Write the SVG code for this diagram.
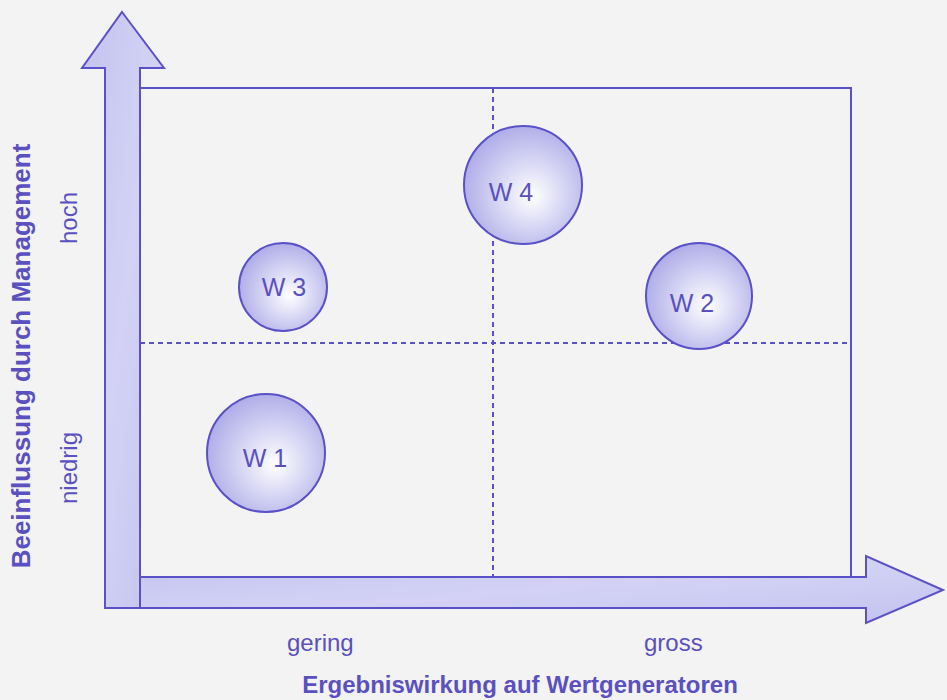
<svg xmlns="http://www.w3.org/2000/svg" width="947" height="700" viewBox="0 0 947 700">
  <style>
    .ln { stroke: #5a50c8; stroke-width: 2; fill: none; }
    .dash { stroke: #5a50c8; stroke-width: 2; stroke-dasharray: 5 4; fill: none; }
    .arrow { fill: url(#arrowFill); stroke: #5a50c8; stroke-width: 2; stroke-linejoin: miter; }
    .bubble { fill: url(#bubbleFill); stroke: #5a50c8; stroke-width: 2; }
    .lbl { font-family: "Liberation Sans", Arial, sans-serif; fill: #5a50c0; font-size: 24px; }
    .ttl { font-family: "Liberation Sans", Arial, sans-serif; fill: #5a50c0; font-size: 24px; font-weight: bold; }
    .wl { font-family: "Liberation Sans", Arial, sans-serif; fill: #5a50c0; font-size: 25px; text-anchor: middle; }
  </style>
  <defs>
    <linearGradient id="arrowFill" x1="0" y1="0" x2="1" y2="1">
      <stop offset="0" stop-color="#c3c2ef"/>
      <stop offset="0.5" stop-color="#d3d2f5"/>
      <stop offset="1" stop-color="#c3c2ef"/>
    </linearGradient>
    <radialGradient id="bubbleFill" cx="0.55" cy="0.55" r="0.6" fx="0.58" fy="0.6">
      <stop offset="0" stop-color="#ffffff"/>
      <stop offset="0.45" stop-color="#d9d8f5"/>
      <stop offset="1" stop-color="#aaa8e6"/>
    </radialGradient>
  </defs>
  <rect width="947" height="700" fill="#f3f3f3"/>

  <g id="axes">
    <polygon id="y-axis" class="arrow" points="122,12 164,68 140,68 140,608 105,608 105,68 82,68"/>
    <polygon id="x-axis" class="arrow" points="140,577 866,577 866,556 943,590 866,623 866,608 140,608"/>
  </g>

  <g id="matrix">
    <rect class="ln" x="140" y="88" width="711" height="489"/>
    <line class="dash" x1="140" y1="343" x2="851" y2="343"/>
    <line class="dash" x1="493" y1="88" x2="493" y2="577"/>
  </g>

  <g id="W1">
    <circle class="bubble" cx="266" cy="453" r="59"/>
    <text class="wl" x="265" y="467">W 1</text>
  </g>
  <g id="W2">
    <circle class="bubble" cx="699" cy="296" r="53"/>
    <text class="wl" x="692" y="312">W 2</text>
  </g>
  <g id="W3">
    <circle class="bubble" cx="283" cy="287" r="44"/>
    <text class="wl" x="284" y="296">W 3</text>
  </g>
  <g id="W4">
    <circle class="bubble" cx="523" cy="185" r="59"/>
    <text class="wl" x="511" y="201">W 4</text>
  </g>

  <g id="labels">
    <text class="lbl" x="287" y="651">gering</text>
    <text class="lbl" x="644" y="651">gross</text>
    <text class="ttl" x="520" y="693" text-anchor="middle">Ergebniswirkung auf Wertgeneratoren</text>
    <text class="lbl" transform="translate(77,218) rotate(-90)" text-anchor="middle">hoch</text>
    <text class="lbl" transform="translate(77,468) rotate(-90)" text-anchor="middle">niedrig</text>
    <text class="ttl" transform="translate(30,356) rotate(-90)" text-anchor="middle" style="font-size:26px">Beeinflussung durch Management</text>
  </g>
</svg>
